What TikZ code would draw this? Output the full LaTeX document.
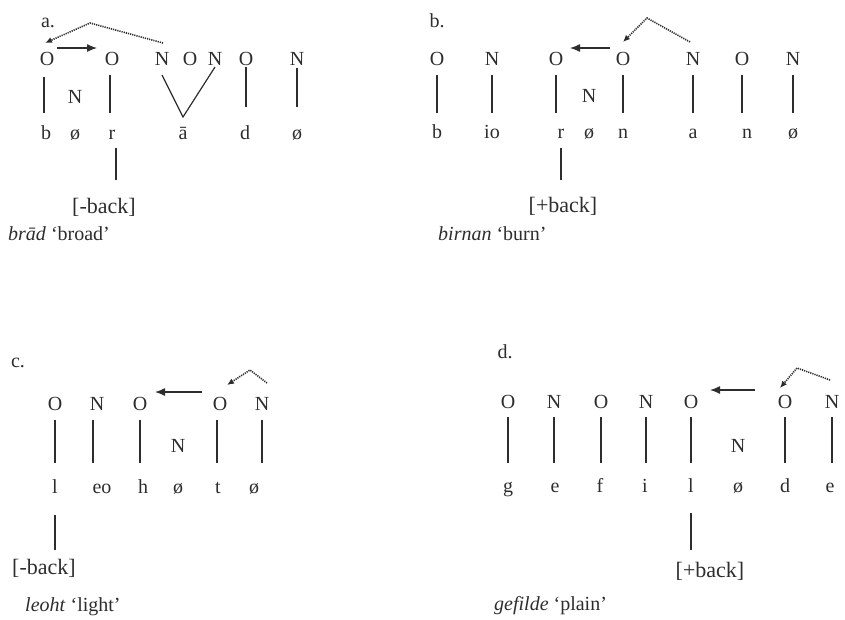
\documentclass[tikz,border=0pt]{standalone}
\usepackage{fontspec}
\setmainfont{Liberation Serif}
\usetikzlibrary{arrows.meta,calc}
\definecolor{ink}{RGB}{45,45,45}
\begin{document}
\begin{tikzpicture}[x=1pt,y=-1pt,
  seg/.style={anchor=base,inner sep=0pt,text=ink,font=\fontsize{20}{24}\selectfont},
  feat/.style={seg,font=\fontsize{22}{26}\selectfont},
  tag/.style={seg,anchor=base west},
  assoc/.style={draw=ink,line width=1.2pt},
  mov/.style={draw=ink,line width=1.3pt,-{Latex[length=10pt,width=8pt]}},
  spread/.style={draw=ink,line width=1.6pt,dash pattern=on 1.2pt off 1pt,-{Latex[length=7pt,width=6pt]}}]
\useasboundingbox (0,0) rectangle (845,619);

% ---------- (a) brad ----------
\node[seg] (a-lab) at (48,27) {a.};
\node[seg] (aO1) at (47,65) {O};
\node[seg] (aO2) at (112,65) {O};
\node[seg] (aN1) at (162,65) {N};
\node[seg] (aO3) at (190,65) {O};
\node[seg] (aN2) at (215,65) {N};
\node[seg] (aO4) at (246,65) {O};
\node[seg] (aN3) at (297,65) {N};
\node[seg] (aNm) at (75,103) {N};
\node[seg] (ab) at (46,139) {b};
\node[seg] (aE1) at (75,139) {ø};
\node[seg] (ar) at (112,139) {r};
\node[seg] (aa) at (183,139) {ā};
\node[seg] (ad) at (245,139) {d};
\node[seg] (aE2) at (297,139) {ø};
\node[feat] (af) at (104,213) {[-back]};
\node[tag] (acap) at (8,240) {\textit{brād} ‘broad’};

\draw[assoc] ([xshift=-3pt,yshift=-12pt]aO1.base) -- ([xshift=-3pt,yshift=26pt]aO1.base |- ab.base);
\draw[assoc] ([xshift=-2pt,yshift=-10pt]aO2.base) -- ([xshift=-2pt,yshift=26pt]aO2.base |- ar.base);
\draw[assoc] ([yshift=-2pt]aO4.base) -- ([yshift=32pt]aO4.base |- ad.base);
\draw[assoc] ([yshift=-3pt]aN3.base) -- ([yshift=32pt]aN3.base |- aE2.base);
\coordinate (aV) at (183,117);
\draw[assoc] ([yshift=-10pt]aN1.base) -- (aV) -- ([yshift=-2pt]aN2.base);
\draw[assoc] ([xshift=4pt,yshift=-9pt]ar.base) -- ([xshift=4pt,yshift=33pt]ar.base |- af.base);
\draw[mov] ([xshift=10pt,yshift=17pt]aO1.base) -- ([xshift=-15pt,yshift=17pt]aO2.base);
\coordinate (aPeak) at (90,23);
\draw[spread] ([xshift=1pt,yshift=22pt]aN1.base) -- (aPeak) -- ([xshift=-2pt,yshift=22pt]aO1.base);

% ---------- (b) birnan ----------
\node[seg] (b-lab) at (437,27) {b.};
\node[seg] (bO1) at (437,65) {O};
\node[seg] (bN1) at (492,65) {N};
\node[seg] (bO2) at (556,65) {O};
\node[seg] (bO3) at (623,65) {O};
\node[seg] (bN2) at (693,65) {N};
\node[seg] (bO4) at (742,65) {O};
\node[seg] (bN3) at (793,65) {N};
\node[seg] (bNm) at (589,102) {N};
\node[seg] (bb) at (437,138) {b};
\node[seg] (bio) at (492,138) {io};
\node[seg] (br) at (561,138) {r};
\node[seg] (bE1) at (589,138) {ø};
\node[seg] (bn1) at (623,138) {n};
\node[seg] (ba) at (693,138) {a};
\node[seg] (bn2) at (747,138) {n};
\node[seg] (bE2) at (793,138) {ø};
\node[feat] (bf) at (563,212) {[+back]};
\node[tag] (bcap) at (438,240) {\textit{birnan} ‘burn’};

\foreach \t/\b in {bO1/bb,bN1/bio,bO2/br,bO3/bn1,bN2/ba,bO4/bn2,bN3/bE2}
  \draw[assoc] ([yshift=-10pt]\t.base) -- ([yshift=25pt]\t.base |- \b.base);
\draw[assoc] ([yshift=-10pt]br.base) -- ([yshift=32pt]br.base |- bf.base);
\draw[mov] ([xshift=-13pt,yshift=17pt]bO3.base) -- ([xshift=14pt,yshift=17pt]bO2.base);
\coordinate (bPeak) at (647,18);
\draw[spread] ([xshift=-3pt,yshift=23pt]bN2.base) -- (bPeak) -- ([yshift=23pt]bO3.base);

% ---------- (c) leoht ----------
\node[seg] (c-lab) at (18,367) {c.};
\node[seg] (cO1) at (55,410) {O};
\node[seg] (cN1) at (97,410) {N};
\node[seg] (cO2) at (140,410) {O};
\node[seg] (cO3) at (220,410) {O};
\node[seg] (cN2) at (262,410) {N};
\node[seg] (cNm) at (178,452) {N};
\node[seg] (cl) at (55,493) {l};
\node[seg] (ceo) at (102,493) {eo};
\node[seg] (ch) at (143,493) {h};
\node[seg] (cE1) at (178,493) {ø};
\node[seg] (ct) at (218,493) {t};
\node[seg] (cE2) at (254,493) {ø};
\node[feat] (cf) at (44,574) {[-back]};
\node[tag] (ccap) at (25,611) {\textit{leoht} ‘light’};

\draw[assoc] ([yshift=-10pt]cO1.base) -- ([yshift=30pt]cO1.base |- cl.base);
\draw[assoc] ([xshift=-4pt,yshift=-10pt]cN1.base) -- ([xshift=-4pt,yshift=30pt]cN1.base |- ceo.base);
\draw[assoc] ([yshift=-10pt]cO2.base) -- ([yshift=30pt]cO2.base |- ch.base);
\draw[assoc] ([xshift=-3pt,yshift=-10pt]cO3.base) -- ([xshift=-3pt,yshift=30pt]cO3.base |- ct.base);
\draw[assoc] ([yshift=-10pt]cN2.base) -- ([yshift=30pt]cN2.base |- cE2.base);
\draw[assoc] ([yshift=-22pt]cl.base) -- ([yshift=24pt]cl.base |- cf.base);
\draw[mov] ([xshift=-18pt,yshift=18pt]cO3.base) -- ([xshift=15pt,yshift=18pt]cO2.base);
\coordinate (cPeak) at (250,370);
\draw[spread] ([xshift=5pt,yshift=27pt]cN2.base) -- (cPeak) -- ([xshift=7pt,yshift=25pt]cO3.base);

% ---------- (d) gefilde ----------
\node[seg] (d-lab) at (505,358) {d.};
\node[seg] (dO1) at (508,408) {O};
\node[seg] (dN1) at (554,408) {N};
\node[seg] (dO2) at (601,408) {O};
\node[seg] (dN2) at (646,408) {N};
\node[seg] (dO3) at (691,408) {O};
\node[seg] (dO4) at (785,408) {O};
\node[seg] (dN3) at (832,408) {N};
\node[seg] (dNm) at (738,452) {N};
\node[seg] (dg) at (508,492) {g};
\node[seg] (de1) at (555,492) {e};
\node[seg] (df1) at (600,492) {f};
\node[seg] (di) at (645,492) {i};
\node[seg] (dl) at (691,492) {l};
\node[seg] (dE) at (738,492) {ø};
\node[seg] (dd) at (785,492) {d};
\node[seg] (de2) at (830,492) {e};
\node[feat] (df) at (710,577) {[+back]};
\node[tag] (dcap) at (494,610) {\textit{gefilde} ‘plain’};

\foreach \t/\b in {dO1/dg,dN1/de1,dO2/df1,dN2/di,dO3/dl,dO4/dd,dN3/de2}
  \draw[assoc] ([yshift=-9pt]\t.base) -- ([yshift=29pt]\t.base |- \b.base);
\draw[assoc] ([yshift=-21pt]dl.base) -- ([yshift=27pt]dl.base |- df.base);
\draw[mov] ([xshift=-30pt,yshift=18pt]dO4.base) -- ([xshift=19pt,yshift=18pt]dO3.base);
\coordinate (dPeak) at (797,368);
\draw[spread] ([xshift=-2pt,yshift=28pt]dN3.base) -- (dPeak) -- ([xshift=-5pt,yshift=20pt]dO4.base);
\end{tikzpicture}
\end{document}
